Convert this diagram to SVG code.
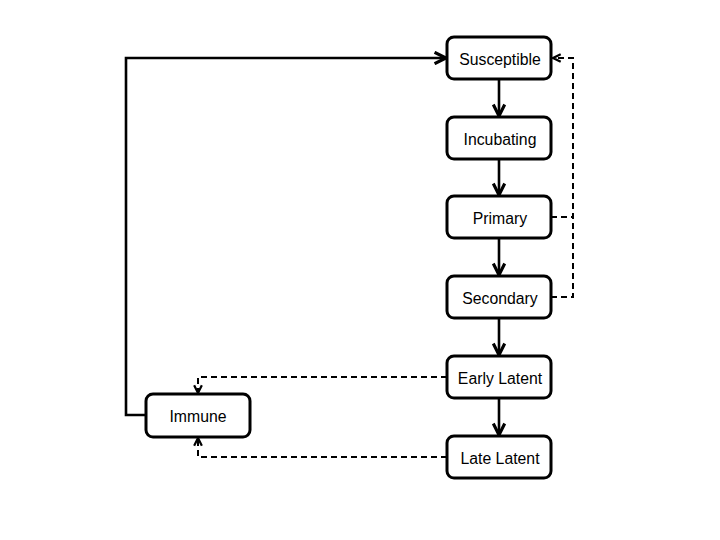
<svg xmlns="http://www.w3.org/2000/svg" width="720" height="540" viewBox="0 0 720 540">
<style>
.box{fill:#fff;stroke:#000;stroke-width:3}
.lbl{font-family:"Liberation Sans",Arial,sans-serif;font-size:15.8px;fill:#000;text-anchor:middle;dominant-baseline:central}
.solid{fill:none;stroke:#000;stroke-width:2.6}
.dash{fill:none;stroke:#000;stroke-width:2;stroke-dasharray:6,4}
</style>
<defs>
<marker id="ah" viewBox="0 0 10 10" refX="9" refY="5" markerWidth="5.5" markerHeight="5.5" orient="auto" markerUnits="strokeWidth">
<path d="M1,1 L9,5 L1,9" fill="none" stroke="#000" stroke-width="2.2"/>
</marker>
<marker id="ahd" viewBox="0 0 10 10" refX="9" refY="5" markerWidth="5.5" markerHeight="5.5" orient="auto" markerUnits="strokeWidth">
<path d="M2,1.5 L9,5 L2,8.5" fill="none" stroke="#000" stroke-width="2"/>
</marker>
</defs>
<rect width="720" height="540" fill="#fff"/>
<g id="connectors">
<path class="solid" d="M499,79 V116" marker-end="url(#ah)"/>
<path class="solid" d="M499,159 V195" marker-end="url(#ah)"/>
<path class="solid" d="M499,238 V275" marker-end="url(#ah)"/>
<path class="solid" d="M499,318 V355" marker-end="url(#ah)"/>
<path class="solid" d="M499,398 V435" marker-end="url(#ah)"/>
<path class="solid" d="M146,415 H126 V58 H446" marker-end="url(#ah)"/>
<path class="dash" d="M551,217 H573"/>
<path class="dash" d="M551,297 H573 V58 H553" marker-end="url(#ahd)"/>
<path class="dash" d="M447,377 H198 V393" marker-end="url(#ahd)"/>
<path class="dash" d="M447,457 H198 V438" marker-end="url(#ahd)"/>
</g>
<g id="susceptible"><rect class="box" x="447" y="37" width="104" height="42" rx="7"/><text class="lbl" x="500" y="59">Susceptible</text></g>
<g id="incubating"><rect class="box" x="447" y="117" width="104" height="42" rx="7"/><text class="lbl" x="500" y="139">Incubating</text></g>
<g id="primary"><rect class="box" x="447" y="196" width="104" height="42" rx="7"/><text class="lbl" x="500" y="218">Primary</text></g>
<g id="secondary"><rect class="box" x="447" y="276" width="104" height="42" rx="7"/><text class="lbl" x="500" y="298">Secondary</text></g>
<g id="early-latent"><rect class="box" x="447" y="356" width="104" height="42" rx="7"/><text class="lbl" x="500" y="378">Early Latent</text></g>
<g id="late-latent"><rect class="box" x="447" y="436" width="104" height="42" rx="7"/><text class="lbl" x="500" y="458">Late Latent</text></g>
<g id="immune"><rect class="box" x="146" y="394" width="104" height="43" rx="7"/><text class="lbl" x="198" y="416">Immune</text></g>
</svg>
